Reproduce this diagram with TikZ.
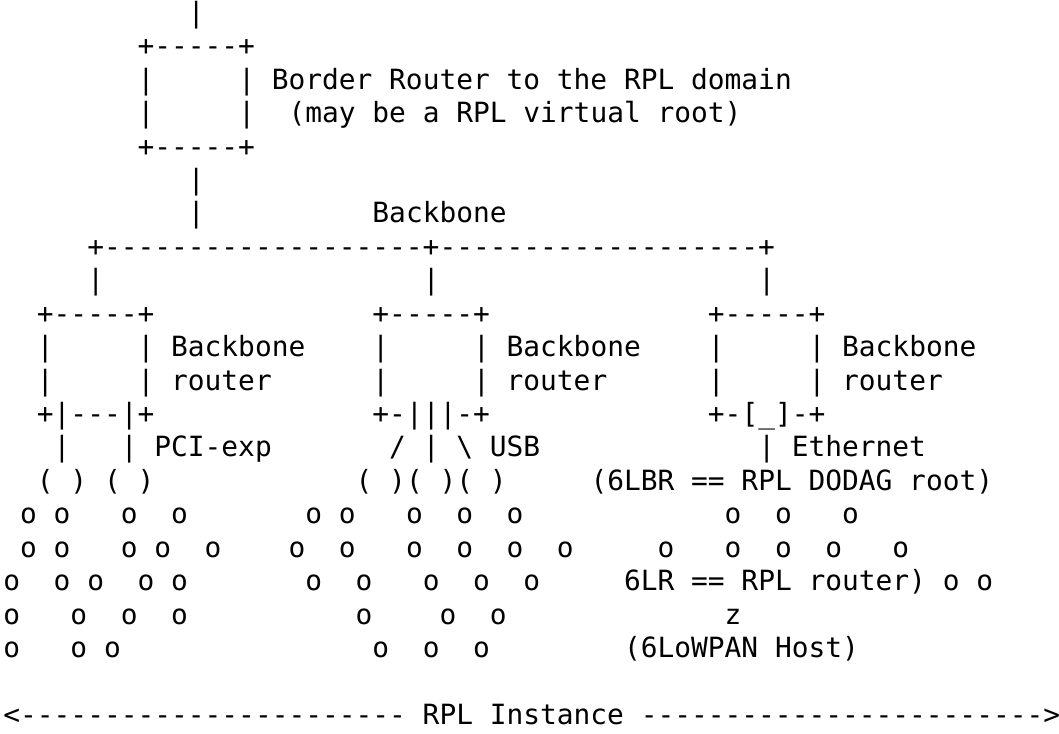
\documentclass[tikz,border=0pt]{standalone}
\usepackage{fontspec}
\setmonofont{DejaVu Sans Mono}
\begin{document}
\begin{tikzpicture}[x=6.0205pt, y=-12pt,
  ln/.style={anchor=base west, inner sep=0pt, outer sep=0pt, font=\ttfamily\fontsize{10pt}{12pt}\selectfont}]
\useasboundingbox (-1.22pt,0pt) rectangle (378.85pt,-263.07pt);
% top border router
\node[ln] (r0)  at (11,0.667) {|};
\node[ln] (r1)  at (8,1.667) {+-----+};
\node[ln] (r2a) at (8,2.667) {|};
\node[ln] (r2b) at (14,2.667) {| Border Router to the RPL domain};
\node[ln] (r3a) at (8,3.667) {|};
\node[ln] (r3b) at (14,3.667) {|};
\node[ln] (r3c) at (17,3.667) {(may be a RPL virtual root)};
\node[ln] (r4)  at (8,4.667) {+-----+};
\node[ln] (r5)  at (11,5.667) {|};
\node[ln] (r6a) at (11,6.667) {|};
\node[ln] (r6b) at (22,6.667) {Backbone};
% backbone
\node[ln] (r7)  at (5,7.667) {+-------------------+-------------------+};
\foreach \c in {5,25,45} \node[ln] (r8-\c) at (\c,8.667) {|};
% backbone routers
\foreach \c in {2,22,42} {
  \node[ln] (r9-\c)  at (\c,9.667) {+-----+};
  \node[ln] (r10a-\c) at (\c,10.667) {|};
  \node[ln] (r10b-\c) at (\c+6,10.667) {| Backbone};
  \node[ln] (r11a-\c) at (\c,11.667) {|};
  \node[ln] (r11b-\c) at (\c+6,11.667) {| router};
}
\node[ln] (r12a) at (2,12.667) {+|---|+};
\node[ln] (r12b) at (22,12.667) {+-|||-+};
\node[ln] (r12c) at (42,12.667) {+-[\_]-+};
% links
\node[ln] (r13a) at (3,13.667) {|};
\node[ln] (r13b) at (7,13.667) {| PCI-exp};
\node[ln] (r13c) at (23,13.667) {/ | \textbackslash{} USB};
\node[ln] (r13d) at (45,13.667) {| Ethernet};
\node[ln] (r14a) at (2,14.667) {( ) ( )};
\node[ln] (r14b) at (21,14.667) {( )( )( )};
\node[ln] (r14c) at (35,14.667) {(6LBR == RPL DODAG root)};
% mesh nodes
\foreach \c in {1,3,7,10,18,20,24,27,30,43,46,50} \node[ln] (o15-\c) at (\c,15.667) {o};
\foreach \c in {1,3,7,9,12,17,20,24,27,30,33,39,43,46,49,53} \node[ln] (o16-\c) at (\c,16.667) {o};
\foreach \c in {0,3,5,8,10,18,21,25,28,31} \node[ln] (o17-\c) at (\c,17.667) {o};
\node[ln] (r17) at (37,17.667) {6LR == RPL router) o o};
\foreach \c in {0,4,7,10,21,26,29} \node[ln] (o18-\c) at (\c,18.667) {o};
\node[ln] (z) at (43,18.667) {z};
\foreach \c in {0,4,6,22,25,28} \node[ln] (o19-\c) at (\c,19.667) {o};
\node[ln] (r19) at (37,19.667) {(6LoWPAN Host)};
% instance
\node[ln] (r21) at (0,21.667) {<----------------------- RPL Instance ------------------------>};
\end{tikzpicture}
\end{document}
